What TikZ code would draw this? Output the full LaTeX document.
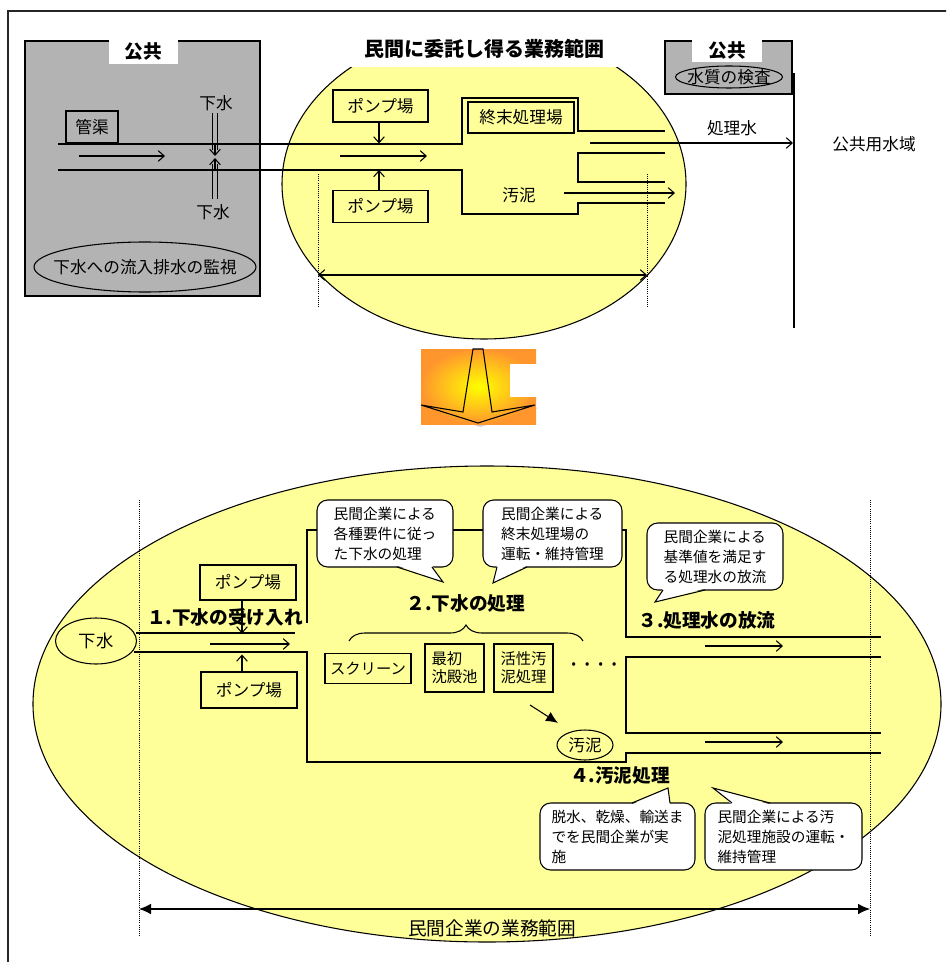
\documentclass[tikz,border=0pt]{standalone}
\usepackage{fontspec}
\setmainfont{Noto Sans CJK JP}
\usetikzlibrary{shapes.geometric,arrows.meta,decorations.pathreplacing,calc}
\definecolor{ylw}{RGB}{255,255,153}
\definecolor{gbox}{RGB}{179,179,179}
\definecolor{org}{RGB}{255,150,45}
\begin{document}
\begin{tikzpicture}[x=0.75pt,y=-0.75pt,line width=0.8pt,
  bx/.style 2 args={draw,rectangle,inner sep=0pt,minimum width=#1*0.75pt,minimum height=#2*0.75pt},
  ell/.style 2 args={draw,ellipse,inner sep=0pt,minimum width=#1*0.75pt,minimum height=#2*0.75pt},
  reg/.style={font=\fontsize{12.5}{15}\selectfont},
  sml/.style={font=\fontsize{11.5}{13.5}\selectfont,align=left},
  bld/.style={font=\fontsize{14}{16}\selectfont\bfseries},
  ttl/.style={font=\fontsize{15}{18}\selectfont\bfseries},
  pub/.style={fill=white,inner sep=0pt,font=\fontsize{14}{16}\selectfont\bfseries},
  cl/.style 2 args={draw,fill=white,rounded corners=8pt,inner sep=0pt,align=left,
     minimum width=#1*0.75pt,minimum height=#2*0.75pt,font=\fontsize{11}{15}\selectfont},
  oa/.style={-{Straight Barb[length=4.5pt,width=8pt]}},
  oab/.style={{Straight Barb[length=4.5pt,width=8pt]}-{Straight Barb[length=4.5pt,width=8pt]}},
  fa/.style={-{Latex[length=9pt,width=8pt]}},
  fab/.style={{Latex[length=9pt,width=8pt]}-{Latex[length=9pt,width=8pt]}},
  dotl/.style={densely dotted,line width=0.6pt},
]
\useasboundingbox (0,0) rectangle (946,962);
\clip (0,0) rectangle (946,962);
\fill[white] (0,0) rectangle (946,962);
% frame
\draw[line width=1.6pt,black!85] (8,990) -- (8,11) -- (970,11);

% ===== top part =====
\node[bx={235}{255},fill=gbox] (pubL) at (142.5,168.5) {};
\node[pub,minimum width=69*0.75pt,minimum height=25*0.75pt] (pubLt) at (143.5,51.5) {公共};

\node[ell={404}{310},fill=ylw] (E1) at (484,184) {};
\fill[white] (340,20) rectangle (630,67);
\node[ttl] (title) at (484,49) {民間に委託し得る業務範囲};

% pipes
\draw (58,144) -- (462,144) -- (462,98) -- (578,98) -- (578,131) -- (665,131);
\draw (58,170) -- (462,170) -- (462,214) -- (578,214) -- (578,203) -- (665,203);
\draw (665,153) -- (578,153) -- (578,182) -- (665,182);
\draw[oa] (79,156) -- (165,156);
\draw[oa] (340,156) -- (427,156);
\draw[oa] (564,193) -- (675,193);
\draw[oa] (590,143) -- (793,143);

\node[bx={52}{32},reg] (kan) at (92,127) {管渠};
\node[reg] (gT) at (216,103) {下水};
\node[reg] (gB) at (213,212) {下水};
\draw (212.5,113) -- (212.5,150);
\draw (217.5,113) -- (217.5,150);
\draw[oa] (215,144) -- (215,156);
\draw (212.5,164) -- (212.5,199);
\draw (217.5,164) -- (217.5,199);
\draw[oa] (215,170) -- (215,158);
\node[ell={222}{50}] (mon) at (145,267) {};
\node[reg] (mont) at (mon.center) {下水への流入排水の監視};

\node[bx={95}{32},reg] (pT) at (380.5,106) {ポンプ場};
\node[bx={95}{32},reg] (pB) at (380.5,206.5) {ポンプ場};
\draw[oa] ($(pT.south)+(-1.5,0)$) -- ++(0,21);
\draw[oa] ($(pB.north)+(-1.5,0)$) -- ++(0,-20);
\node[bx={106}{31},reg] (sh) at (521,117.5) {終末処理場};
\node[reg] (od) at (519,195) {汚泥};

\draw[dotl] (318,174) -- (318,308);
\draw[dotl] (647,174) -- (647,308);
\draw[oab] (318,275) -- (647,275);

\node[bx={127}{53},fill=gbox] (pubR) at (728.5,67.5) {};
\node[pub,minimum width=70*0.75pt,minimum height=23*0.75pt] (pubRt) at (727,50.5) {公共};
\node[ell={107}{22}] (wq) at (729,77) {};
\node[font=\fontsize{12.5}{14}\selectfont] (wqt) at (wq.center) {水質の検査};
\draw (794,73) -- (794,328);
\node[reg] (sw) at (732,128) {処理水};
\node[reg] (kk) at (874,144) {公共用水域};

% ===== middle arrow =====
\fill[gray!35] (475,351) -- (485,351) -- (494,414) -- (538,408) -- (480,427) -- (424,408) -- (465,414) -- cycle;
\shade[inner color=yellow,outer color=org] (421,349) rectangle (536,424);
\fill[white] (510,364) rectangle (537,397);
\draw[line width=0.8pt] (473,349) -- (483,349) -- (492,412) -- (535,405) -- (478,423) -- (421,405) -- (463,412) -- cycle;

% ===== bottom part =====
\node[ell={908}{476},fill=ylw] (E2) at (487,704) {};
\draw[dotl] (139,500) -- (139,936);
\draw[dotl] (870,500) -- (870,936);
\draw[fab] (139,909) -- (870,909);
\node[font=\fontsize{14}{16}\selectfont] (scope) at (492,928) {民間企業の業務範囲};

\node[ell={81}{46},fill=ylw] (gs) at (96,641) {};
\node[font=\fontsize{13}{15}\selectfont] (gst) at (gs.center) {下水};
\draw (136,633) -- (295,633);
\draw (134,652) -- (307,652) -- (307,762) -- (626,762) -- (626,753) -- (881,753);
\draw (307,623) -- (307,530) -- (626,530) -- (626,637) -- (881,637);
\draw (881,657) -- (626,657) -- (626,733) -- (881,733);
\draw[oa] (210,644) -- (290,644);
\draw[oa] (705,646) -- (783,646);
\draw[oa] (705,742) -- (783,742);

\node[bx={96}{35},reg] (pT2) at (248,582.5) {ポンプ場};
\node[bx={96}{36},reg] (pB2) at (249,690) {ポンプ場};
\draw[oa] ($(pT2.south)+(-6,0)$) -- ++(0,33);
\draw[oa] ($(pB2.north)+(-7,0)$) -- ++(0,-17);
\node[bld] (l1) at (225,617) {１.下水の受け入れ};
\node[bld] (l2) at (466,603) {２.下水の処理};
\node[bld] (l3) at (707,620) {３.処理水の放流};
\node[bld] (l4) at (620,775) {４.汚泥処理};

\draw[decorate,decoration={brace,amplitude=12pt}] (349,641) -- (583,641);
\node[bx={86}{30},font=\fontsize{11.5}{13.5}\selectfont] (scr) at (368,668.5) {スクリーン};
\node[bx={59}{48},sml] (sed) at (454.5,668) {最初\\沈殿池};
\node[bx={59}{48},sml] (act) at (523.5,668) {活性汚\\泥処理};
\node[font=\fontsize{12}{14}\selectfont\bfseries] (dots) at (594,667) {· · · ·};
\draw[fa] (530,705) -- (558,723);
\node[ell={56}{30},fill=ylw] (od2) at (585,745) {};
\node[reg] (od2t) at (od2.center) {汚泥};

% callouts
\node[cl={136}{67}] (c1) at (385,533.5) {民間企業による\\各種要件に従っ\\た下水の処理};
\fill[white] (397,565.5) -- (443,582) -- (432,565.5) -- cycle;
\draw (397,567) -- (443,582) -- (432,567);

\node[cl={139}{67}] (c2) at (552.5,533.5) {民間企業による\\終末処理場の\\運転・維持管理};
\fill[white] (497,565.5) -- (493,583) -- (527,565.5) -- cycle;
\draw (497,567) -- (493,583) -- (527,567);

\node[cl={136}{67}] (c3) at (715,556.5) {民間企業による\\基準値を満足す\\る処理水の放流};
\fill[white] (663,588.5) -- (655,602) -- (705,588.5) -- cycle;
\draw (663,590) -- (655,602) -- (705,590);

\node[cl={155}{67}] (c4) at (617.5,836.5) {脱水、乾燥、輸送ま\\でを民間企業が実\\施};
\fill[white] (632,804.5) -- (668,788) -- (670,804.5) -- cycle;
\draw (632,803) -- (668,788) -- (670,803);

\node[cl={157}{67}] (c5) at (783.5,836.5) {民間企業による汚\\泥処理施設の運転・\\維持管理};
\fill[white] (732,804.5) -- (713,788) -- (770,804.5) -- cycle;
\draw (732,803) -- (713,788) -- (770,803);
\end{tikzpicture}
\end{document}
